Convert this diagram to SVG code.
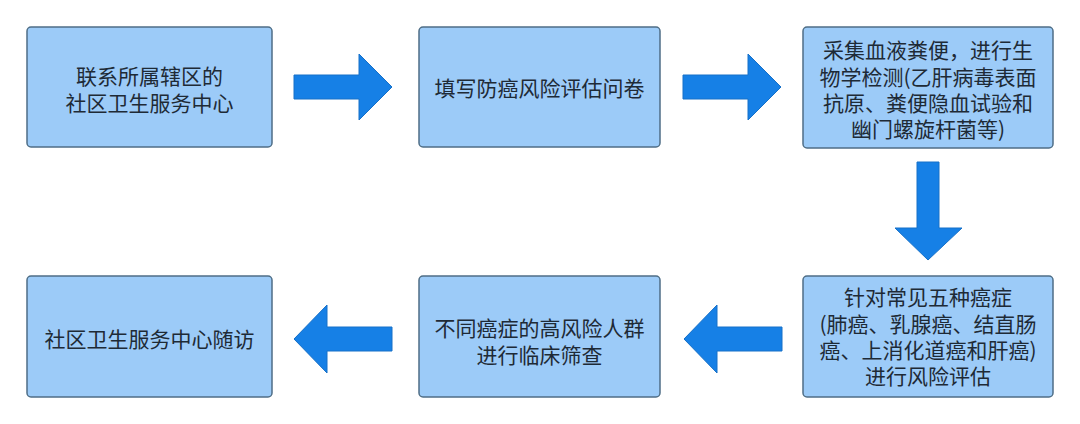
<svg xmlns="http://www.w3.org/2000/svg" width="1080" height="424" viewBox="0 0 1080 424">
<style>
.box{fill:#9ccbf8;stroke:#4f6e86;stroke-width:1.5}
.arr{fill:#1680e6;stroke:#1670c8;stroke-width:1}
text{font-family:"Noto Sans CJK SC","Noto Sans",sans-serif;font-size:21px;fill:#1e2a36;text-anchor:middle;dominant-baseline:central}
</style>
<rect width="1080" height="424" fill="#ffffff"/>
<g id="connectors">
<polygon class="arr" points="294,75 359,75 359,54 392,87 359,120 359,99 294,99"/>
<polygon class="arr" points="683,75 748,75 748,54 781,87 748,120 748,99 683,99"/>
<polygon class="arr" points="917,162 939,162 939,228 962,228 928,260 895,228 917,228"/>
<polygon class="arr" points="782,327 717,327 717,305 684,339 717,373 717,351 782,351"/>
<polygon class="arr" points="392,327 327,327 327,305 294,339 327,373 327,351 392,351"/>
</g>
<g id="n1">
<rect class="box" x="27" y="27" width="245" height="120" rx="4"/>
<text x="149.5" y="75">联系所属辖区的</text>
<text x="149.5" y="102">社区卫生服务中心</text>
</g>
<g id="n2">
<rect class="box" x="419" y="27" width="241" height="120" rx="4"/>
<text x="539.5" y="87">填写防癌风险评估问卷</text>
</g>
<g id="n3">
<rect class="box" x="803" y="27" width="250" height="121" rx="4"/>
<text x="928" y="49">采集血液粪便，进行生</text>
<text x="928" y="76">物学检测(乙肝病毒表面</text>
<text x="928" y="102">抗原、粪便隐血试验和</text>
<text x="928" y="128">幽门螺旋杆菌等)</text>
</g>
<g id="n4">
<rect class="box" x="803" y="276" width="250" height="121" rx="4"/>
<text x="928" y="296">针对常见五种癌症</text>
<text x="928" y="323">(肺癌、乳腺癌、结直肠</text>
<text x="928" y="349">癌、上消化道癌和肝癌)</text>
<text x="928" y="375">进行风险评估</text>
</g>
<g id="n5">
<rect class="box" x="419" y="276" width="241" height="121" rx="4"/>
<text x="539.5" y="327">不同癌症的高风险人群</text>
<text x="539.5" y="354">进行临床筛查</text>
</g>
<g id="n6">
<rect class="box" x="27" y="276" width="245" height="121" rx="4"/>
<text x="149.5" y="338">社区卫生服务中心随访</text>
</g>
</svg>
